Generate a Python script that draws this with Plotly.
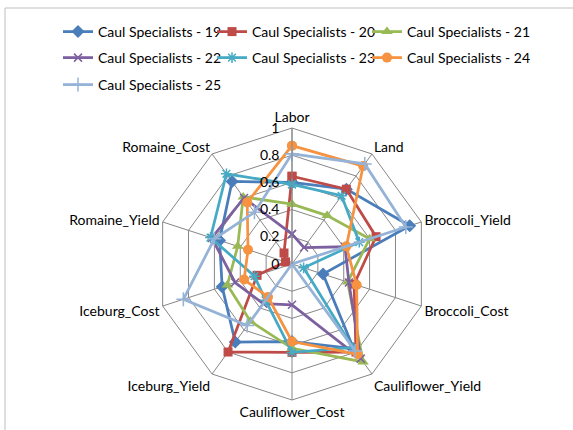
import plotly.graph_objects as go

# Radar axes, clockwise from the top
categories = ["Labor", "Land", "Broccoli_Yield", "Broccoli_Cost", "Cauliflower_Yield",
              "Cauliflower_Cost", "Iceburg_Yield", "Iceburg_Cost", "Romaine_Yield", "Romaine_Cost"]

series_names = ["Caul Specialists - 19", "Caul Specialists - 20", "Caul Specialists - 21",
                "Caul Specialists - 22", "Caul Specialists - 23", "Caul Specialists - 24",
                "Caul Specialists - 25"]

caul_19 = [0.60, 0.68, 0.91, 0.24, 0.77, 0.57, 0.71, 0.54, 0.56, 0.75]
caul_20 = [0.645, 0.68, 0.65, 0.48, 0.80, 0.65, 0.80, 0.27, 0.05, 0.10]
caul_21 = [0.44, 0.44, 0.60, 0.43, 0.89, 0.62, 0.52, 0.50, 0.42, 0.61]
caul_22 = [0.22, 0.15, 0.41, 0.44, 0.86, 0.30, 0.36, 0.44, 0.62, 0.60]
caul_23 = [0.585, 0.62, 0.52, 0.09, 0.76, 0.65, 0.33, 0.29, 0.63, 0.82]
caul_24 = [0.87, 0.89, 0.42, 0.50, 0.82, 0.57, 0.30, 0.37, 0.34, 0.56]
caul_25 = [0.81, 0.91, 0.88, 0.00, 0.79, 0.00, 0.56, 0.84, 0.60, 0.47]

radial_ticks = [0, 0.2, 0.4, 0.6, 0.8, 1]
radial_tick_text = ["0", "0.2", "0.4", "0.6", "0.8", "1"]

all_values = [caul_19, caul_20, caul_21, caul_22, caul_23, caul_24, caul_25]
colors = ["#4A7EBB", "#BE4B48", "#98B954", "#7D60A0", "#46AAC5", "#F69240", "#95B3D7"]
symbols = ["diamond", "square", "triangle-up", "x-thin-open", "asterisk-open", "circle", "cross-thin-open"]
sizes = [10, 9, 10, 8, 9, 10, 10]

FONT = "Lato"
W, H = 573, 430

# legend grid: three columns, three rows
legend_cols = [58, 212, 367]
legend_rows = [32, 58, 85]

fig = go.Figure()
legend_layout = {}
for i, (name, vals, col, sym, sz) in enumerate(zip(series_names, all_values, colors, symbols, sizes)):
    lg = "legend" if i == 0 else f"legend{i + 1}"
    open_marker = sym.endswith("open")
    fig.add_trace(go.Scatterpolar(
        r=vals + vals[:1],
        theta=categories + categories[:1],
        name=name,
        mode="lines+markers",
        line=dict(color=col, width=2.75),
        marker=dict(symbol=sym, size=sz, color=col,
                    line=dict(color=col, width=1.5 if open_marker else 0)),
        legend=lg,
        showlegend=True,
    ))
    legend_layout[lg] = dict(
        x=legend_cols[i % 3] / W, y=1 - legend_rows[i // 3] / H,
        xanchor="left", yanchor="middle", orientation="h", itemwidth=30,
        font=dict(family=FONT, size=14, color="#000000"),
        bgcolor="rgba(0,0,0,0)",
    )

# radial labels sit left of the vertical axis
pad = "\u00a0" * 2
radial_labels = [t + pad for t in radial_tick_text]

grid = "#868686"
fig.update_layout(
    width=W, height=H,
    margin=dict(l=0, r=0, t=0, b=0),
    paper_bgcolor="white",
    showlegend=True,
    font=dict(family=FONT, color="#000000"),
    polar=dict(
        domain=dict(x=[156 / W, 428 / W], y=[30 / H, 302 / H]),
        gridshape="linear",
        bgcolor="white",
        angularaxis=dict(direction="clockwise", rotation=90,
                         categoryorder="array", categoryarray=categories,
                         linecolor=grid, linewidth=1, gridcolor=grid, gridwidth=1,
                         ticks="", tickfont=dict(family=FONT, size=14)),
        radialaxis=dict(range=[0, 1], tickvals=radial_ticks, ticktext=radial_labels,
                        angle=90, tickangle=90, side="counterclockwise",
                        showline=True, linecolor=grid, linewidth=1,
                        gridcolor=grid, gridwidth=1, ticks="",
                        tickfont=dict(family=FONT, size=14)),
    ),
    shapes=[dict(type="rect", xref="paper", yref="paper",
                 x0=5 / W, x1=1.02, y0=-0.02, y1=1 - 8 / H,
                 line=dict(color="#BFBFBF", width=1), fillcolor="rgba(0,0,0,0)")],
    **legend_layout,
)

fig.write_html("out.html")
